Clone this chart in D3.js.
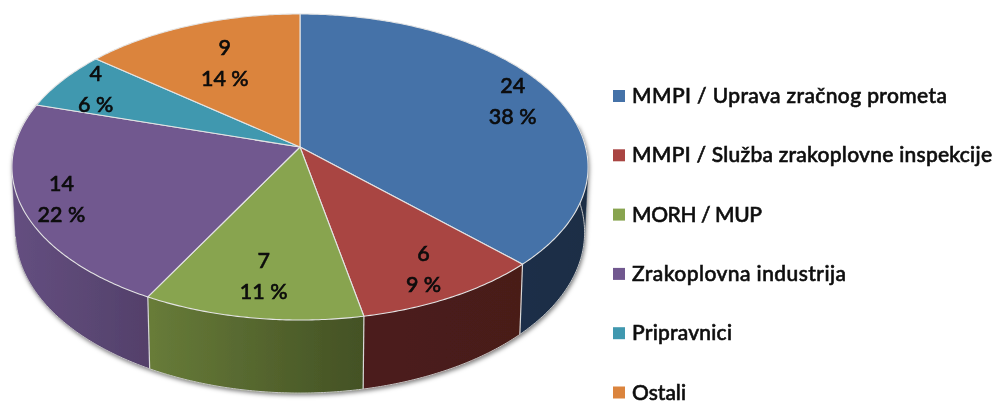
<!DOCTYPE html>
<html><head><meta charset="utf-8">
<script src="https://cdn.jsdelivr.net/npm/d3@7/dist/d3.min.js"></script>
<style>html,body{margin:0;padding:0;background:#fff}svg{display:block}
text{font-family:Lato,"Open Sans",sans-serif;fill:#0a0a0a}</style></head><body>
<script>
const categories = ["MMPI / Uprava zračnog prometa","MMPI / Služba zrakoplovne inspekcije","MORH / MUP","Zrakoplovna industrija","Pripravnici","Ostali"];
const counts = [24,6,7,14,4,9];
const percents = ["38 %","9 %","11 %","22 %","6 %","14 %"];
const topColors = ["#4472a8","#a94543","#88a44f","#71588f","#4198af","#db843d"];
const wallLeft = ["#1b2f48","#4c1e1b","#687c39","#644f80","#2c6a7c","#8f5520"];
const wallRight = ["#1a2d45","#481c19","#435124","#53406a","#2c6a7c","#8f5520"];
const labelRadius = [.84,.83,.78,.865,.854,.664];
const legendWidths = [315,360,130,214,100,54];

const W=997,H=403, cx=300, cy=147, R=285.6, A=150.4, K=-0.1307;
const svg=d3.select("body").append("svg").attr("width",W).attr("height",H);
const defs=svg.append("defs");
const sh=defs.append("filter").attr("id","shadow").attr("x","-5%").attr("y","-5%").attr("width","110%").attr("height","112%");
sh.append("feDropShadow").attr("dx",1).attr("dy",2).attr("stdDeviation",2.2).attr("flood-color","#000").attr("flood-opacity",.5);
const soft=defs.append("filter").attr("id","soft");
soft.append("feGaussianBlur").attr("stdDeviation",.4);

const topPt=(th,r=1)=>{const x=r*Math.sin(th),y=-r*Math.cos(th),d=1+K*y;return [cx+R*x/d, cy+A*y/d];};
const botPt=th=>{const [x,y]=topPt(th);return [cx+(x-cx)*.988, cy+(y-cy)*1.05+64.4];};

const pie=d3.pie().sort(null).value(d=>d);
const arcs=pie(counts);
const line=d3.line();
const arcSamples=(a,b)=>{const n=Math.max(2,Math.ceil((b-a)/.01));return d3.range(n+1).map(i=>a+(b-a)*i/n);};

const root=svg.append("g").attr("filter","url(#soft)");
const walls=root.append("g").attr("filter","url(#shadow)");
const wallMin=Math.PI*.45, wallMax=Math.PI*1.6;
arcs.forEach((d,i)=>{
  const a=Math.max(d.startAngle,wallMin), b=Math.min(d.endAngle,wallMax);
  if(b<=a) return;
  const ts=arcSamples(a,b);
  const pts=d3.polygonHull(ts.map(t=>topPt(t)).concat(ts.map(botPt)));
  const xs=pts.map(p=>p[0]);
  const gid="wg"+i;
  const g=defs.append("linearGradient").attr("id",gid).attr("gradientUnits","userSpaceOnUse")
    .attr("x1",d3.min(xs)).attr("x2",d3.max(xs)).attr("y1",0).attr("y2",0);
  g.append("stop").attr("offset",0).attr("stop-color",wallLeft[i]);
  g.append("stop").attr("offset",1).attr("stop-color",wallRight[i]);
  walls.append("path").attr("d",line(pts)+"Z").attr("fill",`url(#${gid})`).attr("stroke",`url(#${gid})`).attr("stroke-width",.5);
});
const wallEdges=root.append("g").attr("fill","none").attr("stroke","#d8d8d8");
arcs.forEach(d=>{
  const t=d.startAngle;
  if(t>=wallMin&&t<=wallMax) wallEdges.append("path").attr("d",line([topPt(t),botPt(t)])).attr("stroke-width",1.2);
});
wallEdges.append("path").attr("d",line(arcSamples(wallMin,Math.PI*1.45).map(botPt))).attr("stroke","#c4c4c4").attr("stroke-width",1);

const tops=root.append("g");
arcs.forEach((d,i)=>{
  const pts=[topPt(0,0)].concat(arcSamples(d.startAngle,d.endAngle).map(t=>topPt(t)));
  tops.append("path").attr("d",line(pts)+"Z").attr("fill",topColors[i]).attr("stroke","#e4e4e4").attr("stroke-width",1.1).attr("stroke-linejoin","round");
});

const labels=root.append("g").attr("text-anchor","middle").attr("font-size",21.5).attr("font-weight",500).attr("stroke","#0a0a0a").attr("stroke-width",.55);
arcs.forEach((d,i)=>{
  const [x,y]=topPt((d.startAngle+d.endAngle)/2,labelRadius[i]);
  labels.append("text").attr("x",x).attr("y",y-8).text(counts[i]);
  labels.append("text").attr("x",x).attr("y",y+23).text(percents[i]);
});

const legY=d3.scalePoint().domain(categories).range([96,392.5]);
const leg=root.append("g");
categories.forEach((c,i)=>{
  const y=legY(c);
  leg.append("rect").attr("x",613).attr("y",y-6).attr("width",12).attr("height",12).attr("fill",topColors[i]);
  leg.append("text").attr("x",632).attr("y",y+7).attr("font-size",21).attr("font-weight",500).attr("stroke","#0a0a0a").attr("stroke-width",.55)
    .attr("textLength",legendWidths[i]).attr("lengthAdjust","spacing").text(c);
});
</script></body></html>
